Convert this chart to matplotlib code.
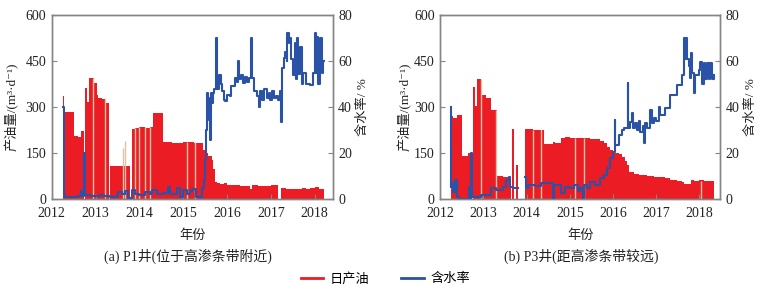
import matplotlib
matplotlib.use("Agg")
import matplotlib.pyplot as plt
from matplotlib.lines import Line2D
from matplotlib import font_manager
import numpy as np

# ---------------- data ----------------
# P1 well: daily oil (m3/d), step values starting at the given year
p1_oil_t = [2012.262, 2012.29, 2012.509, 2012.60, 2012.661, 2012.73, 2012.76, 2012.80, 2012.858,
            2012.973, 2013.03, 2013.064, 2013.15, 2013.216, 2013.315, 2013.33, 2013.60, 2013.786,
            2013.84, 2013.90, 2014.00, 2014.13, 2014.243, 2014.318, 2014.40, 2014.532, 2014.75,
            2015.00, 2015.25, 2015.459, 2015.52, 2015.573, 2015.65, 2015.687, 2015.726, 2015.78,
            2015.85, 2015.92, 2015.993, 2016.10, 2016.20, 2016.30, 2016.449, 2016.524, 2016.56,
            2016.70, 2016.80, 2016.90, 2017.00, 2017.17, 2017.232, 2017.35, 2017.45, 2017.60,
            2017.70, 2017.80, 2017.90, 2018.00, 2018.10, 2018.213]
p1_oil_v = [336, 284, 207, 204, 222, 0, 362, 318, 394,
            378, 340, 330, 325, 314, 0, 110, 108, 0,
            228, 232, 234, 233, 234, 282, 280, 186, 184,
            186, 184, 160, 150, 140, 128, 100, 55, 52,
            50, 53, 48, 46, 45, 44, 43, 35, 45,
            42, 44, 43, 46, 0, 36, 33, 35, 33,
            36, 34, 38, 40, 35, 0]
p1_stripe_t = [2012.95, 2013.216, 2013.62, 2013.672, 2013.90, 2014.00, 2014.13, 2014.243,
               2015.08, 2015.27]
p1_stripe_h = [394, 330, 167, 190, 232, 234, 234, 234, 186, 186]

# P1 well: water cut (%)
p1_wc_t = [2012.262, 2012.27, 2012.303, 2012.45, 2012.60, 2012.661, 2012.684, 2012.74, 2012.755,
           2012.90, 2013.10, 2013.20, 2013.33, 2013.483, 2013.52, 2013.60, 2013.672, 2013.748,
           2013.84, 2013.90, 2014.00, 2014.13, 2014.243, 2014.28, 2014.395, 2014.546, 2014.66,
           2014.699, 2014.852, 2014.927, 2015.00, 2015.08, 2015.15, 2015.20, 2015.30, 2015.384,
           2015.43, 2015.475, 2015.498, 2015.52, 2015.535, 2015.55, 2015.573, 2015.589, 2015.612,
           2015.63, 2015.65, 2015.687, 2015.71, 2015.75, 2015.77, 2015.82, 2015.86, 2015.88,
           2015.92, 2015.954, 2016.00, 2016.068, 2016.10, 2016.18, 2016.22, 2016.258, 2016.28,
           2016.32, 2016.36, 2016.41, 2016.45, 2016.50, 2016.547, 2016.56, 2016.62, 2016.68,
           2016.736, 2016.76, 2016.80, 2016.85, 2016.90, 2016.95, 2016.98, 2017.03, 2017.08,
           2017.12, 2017.163, 2017.20, 2017.232, 2017.26, 2017.29, 2017.316, 2017.36, 2017.375,
           2017.41, 2017.437, 2017.47, 2017.51, 2017.551, 2017.58, 2017.597, 2017.627, 2017.665,
           2017.704, 2017.74, 2017.80, 2017.893, 2017.968, 2018.007, 2018.03, 2018.046, 2018.083,
           2018.12, 2018.16, 2018.197, 2018.213]
p1_wc_v = [40, 2, 1.2, 1.0, 1.5, 3.6, 1.5, 20, 1.8,
           1.5, 2.0, 1.3, 0.9, 2.0, 3.3, 2.5, 3.5, 0.5,
           4.0, 2.5, 2.0, 3.0, 2.2, 4.0, 2.5, 2.8, 5.5,
           2.5, 4.8, 1.0, 4.0, 2.5, 3.5, 4.5, 1.2, 1.0,
           5.0, 8.4, 17, 30, 36, 46, 43.8, 34.4, 25.7,
           46, 41.8, 46, 48, 70, 48, 54, 50, 47,
           43, 42.6, 45.3, 45, 49, 52.5, 51, 60, 52,
           54, 50.5, 53, 51, 52.5, 70, 52.5, 47, 45,
           40.2, 47, 43, 48, 44, 46, 43, 47, 44,
           45, 43, 47, 33.7, 56.8, 61.2, 64, 60, 72,
           68, 70, 61, 54, 68, 52, 70, 54.5, 66,
           50, 55, 50, 49.6, 55, 72, 55, 70.5, 50,
           70, 55, 60, 60]

# P3 well: daily oil (m3/d)
p3_oil_t = [2012.241, 2012.256, 2012.295, 2012.387, 2012.503, 2012.643, 2012.72, 2012.759, 2012.797,
            2012.859, 2012.952, 2013.068, 2013.184, 2013.323, 2013.455, 2013.571, 2013.648, 2013.664,
            2013.71, 2013.749, 2013.803, 2013.973, 2014.151, 2014.343, 2014.36, 2014.406, 2014.615,
            2014.654, 2014.807, 2014.886, 2015.009, 2015.241, 2015.473, 2015.705, 2015.782, 2015.86,
            2015.937, 2016.00, 2016.13, 2016.20, 2016.28, 2016.33, 2016.362, 2016.48, 2016.60,
            2016.79, 2016.95, 2017.097, 2017.213, 2017.329, 2017.485, 2017.60, 2017.64, 2017.80,
            2017.886, 2017.986, 2018.10, 2018.20, 2018.334]
p3_oil_v = [338, 270, 266, 276, 142, 150, 0, 367, 305,
            390, 339, 329, 290, 75, 74, 72, 0, 228,
            0, 112, 0, 228, 226, 0, 225, 180, 185,
            182, 200, 203, 199, 198, 196, 190, 182, 170,
            160, 150, 148, 139, 125, 112, 90, 82, 80,
            76, 74, 72, 68, 64, 60, 57, 50, 62,
            58, 62, 58, 60, 0]
p3_stripe_t = [2012.936, 2013.30, 2014.151, 2014.343, 2015.125, 2015.32, 2018.05]
p3_stripe_h = [390, 290, 226, 225, 199, 198, 60]

# P3 well: water cut (%)
p3_wc_t = [2012.241, 2012.25, 2012.256, 2012.295, 2012.348, 2012.387, 2012.426, 2012.658, 2012.681,
           2012.72, 2012.735, 2012.952, 2013.184, 2013.30, 2013.455, 2013.532, 2013.587, 2013.61,
           2013.687, 2013.803, 2013.973, 2013.99, 2014.035, 2014.19, 2014.343, 2014.615, 2014.63,
           2014.807, 2014.886, 2015.009, 2015.10, 2015.18, 2015.241, 2015.304, 2015.318, 2015.40,
           2015.473, 2015.589, 2015.705, 2015.782, 2015.86, 2015.937, 2016.00, 2016.037, 2016.053,
           2016.13, 2016.20, 2016.246, 2016.339, 2016.35, 2016.40, 2016.44, 2016.46, 2016.50,
           2016.557, 2016.60, 2016.633, 2016.69, 2016.726, 2016.749, 2016.80, 2016.865, 2016.90,
           2016.942, 2017.00, 2017.058, 2017.097, 2017.213, 2017.329, 2017.485, 2017.60, 2017.638,
           2017.66, 2017.70, 2017.72, 2017.754, 2017.777, 2017.81, 2017.84, 2017.886, 2017.91,
           2017.986, 2018.025, 2018.065, 2018.102, 2018.14, 2018.18, 2018.218, 2018.258, 2018.297,
           2018.334]
p3_wc_v = [40.2, 5.5, 7, 3, 8.4, 1, 0.3, 5.5, 0.3,
           20.2, 1, 1.9, 4.8, 4.2, 5.5, 8.4, 9.5, 5.3,
           4.8, np.nan, 9.8, 4.8, 6.2, 5.8, 7, 0, 6.2,
           2.6, 5.5, 4.8, 6.0, 3.5, 5.0, 0.4, 6.2, 5.0,
           7.5, 6.2, 9.1, 10.5, 13.4, 17.8, 20.7, 34.4, 23.6,
           27.9, 30, 30.8, 50.3, 30.8, 33.7, 37.3, 31, 33,
           30, 34, 29, 32, 24.3, 33, 31, 38.7, 33,
           35.2, 34, 40, 36.6, 39.5, 45.3, 49.6, 54, 69.9,
           61, 70, 61, 58, 52.5, 63.4, 55, 46, 54,
           56, 59.6, 50, 59, 52, 59, 52, 59, 52,
           54]

year_ticks = [2012, 2013, 2014, 2015, 2016, 2017, 2018]
oil_ticks = [0, 150, 300, 450, 600]
wc_ticks = [0, 20, 40, 60, 80]

# ---------------- style ----------------
RED = "#ec1c24"
BLUE = "#2a52a6"
TAN = "#dcc3a8"
GRAY = "#858585"
TXT = "#222222"

installed = {f.name for f in font_manager.fontManager.ttflist}
serif = next((n for n in ["Liberation Serif", "Times New Roman", "Nimbus Roman",
                          "DejaVu Serif", "Noto Serif"] if n in installed), None)
if serif is None:
    serif = next((n for n in sorted(installed) if "Serif" in n and "CJK" not in n), "DejaVu Sans")
CJK = "Noto Sans CJK SC"
NUMFONT = [serif, CJK, "DejaVu Sans"]
plt.rcParams["font.family"] = NUMFONT

fig = plt.figure(figsize=(7.62, 2.94), dpi=100)

panels = [
    dict(rect=[0.0679, 0.3221, 0.3687, 0.627], xlim=(2012.0, 2018.41),
         oil_t=p1_oil_t, oil_v=p1_oil_v, st=p1_stripe_t, sh=p1_stripe_h,
         wc_t=p1_wc_t, wc_v=p1_wc_v, caption="(a) P1井(位于高渗条带附近)",
         lab_l=-0.116, lab_r=1.086, cap_x=0.485),
    dict(rect=[0.5778, 0.3221, 0.3671, 0.627], xlim=(2012.0, 2018.48),
         oil_t=p3_oil_t, oil_v=p3_oil_v, st=p3_stripe_t, sh=p3_stripe_h,
         wc_t=p3_wc_t, wc_v=p3_wc_v, caption="(b) P3井(距高渗条带较远)",
         lab_l=-0.101, lab_r=1.089, cap_x=0.503),
]

for p in panels:
    ax = fig.add_axes(p["rect"])
    ax.fill_between(p["oil_t"], p["oil_v"], step="post", color=RED, lw=0)
    ax.vlines(p["st"], 0, p["sh"], color=TAN, lw=1.0)
    ax.set_xlim(*p["xlim"])
    ax.set_ylim(0, 600)
    ax.set_xticks(year_ticks)
    ax.set_yticks(oil_ticks)
    ax.tick_params(direction="in", length=3.5, width=0.8, color=GRAY,
                   labelsize=10, labelcolor=TXT, pad=4)
    ax.tick_params(axis="x", pad=5.5)
    ax.tick_params(axis="y", right=False)
    for s in ax.spines.values():
        s.set_color(GRAY)
        s.set_linewidth(1.0)
    ax.set_ylabel("产油量/(m³·d⁻¹)", fontsize=9.5, color=TXT)
    ax.yaxis.set_label_coords(p["lab_l"], 0.5)
    ax.text(0.5, -0.199, "年份", transform=ax.transAxes, ha="center", va="center",
            fontsize=9.5, color=TXT)
    ax.text(p["cap_x"], -0.31, p["caption"], transform=ax.transAxes, ha="center",
            va="center", fontsize=10, color=TXT)

    ax2 = ax.twinx()
    ax2.plot(p["wc_t"], p["wc_v"], drawstyle="steps-post", color=BLUE, lw=1.5)
    ax2.set_ylim(0, 80)
    ax2.set_yticks(wc_ticks)
    ax2.set_xlim(*p["xlim"])
    ax2.tick_params(direction="in", length=3.5, width=0.8, color=GRAY,
                    labelsize=10, labelcolor=TXT, pad=4)
    for s in ax2.spines.values():
        s.set_color(GRAY)
        s.set_linewidth(1.0)
    ax2.set_ylabel("含水率/ %", fontsize=9.5, color=TXT)
    ax2.yaxis.set_label_coords(p["lab_r"], 0.5)

handles = [Line2D([], [], color=RED, lw=2.0), Line2D([], [], color=BLUE, lw=2.0)]
fig.legend(handles, ["日产油", "含水率"], loc="center", bbox_to_anchor=(0.506, 0.051),
           ncol=2, frameon=False, prop=dict(size=9.5),
           handlelength=1.7, handletextpad=0.5, columnspacing=2.4)

fig.savefig("out.png", dpi=100)
